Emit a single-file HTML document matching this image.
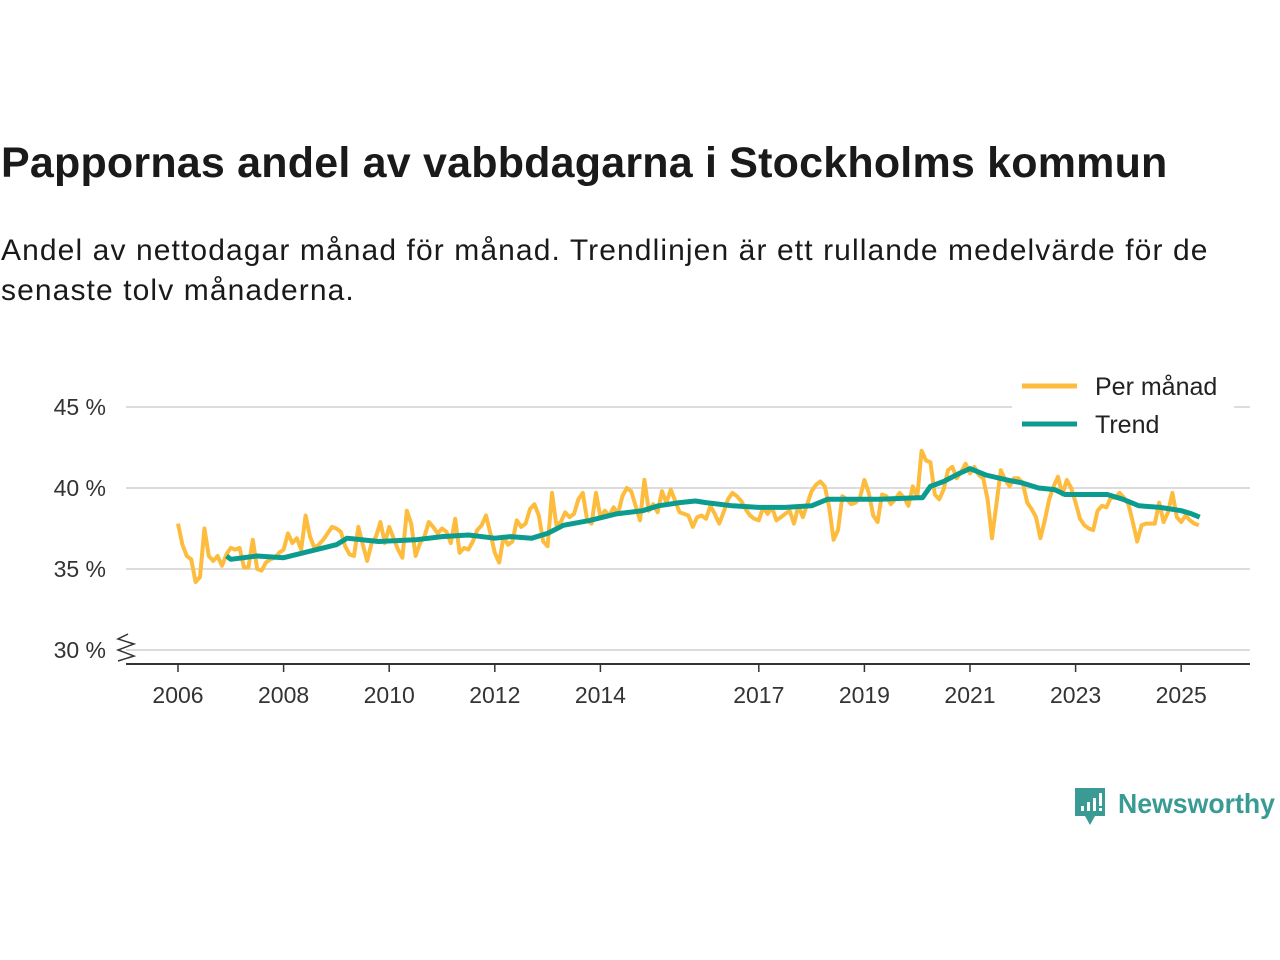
<!DOCTYPE html>
<html><head><meta charset="utf-8">
<style>
html,body{margin:0;padding:0;background:#fff;width:1280px;height:960px;overflow:hidden;font-family:"Liberation Sans",sans-serif;}
#title{position:absolute;left:1px;top:139px;font-size:43px;font-weight:bold;color:#1a1a1a;margin:0;letter-spacing:0.2px}
#sub{position:absolute;left:1px;top:231px;font-size:30px;color:#1a1a1a;line-height:40px;width:1262px;letter-spacing:1.1px}
svg{position:absolute;left:0;top:0}
</style></head><body>
<h1 id="title">Pappornas andel av vabbdagarna i Stockholms kommun</h1>
<div id="sub">Andel av nettodagar månad för månad. Trendlinjen är ett rullande medelvärde för de senaste tolv månaderna.</div>
<svg id="chart" width="1280" height="960"></svg>
<script>
const monthly = [
37.8,36.5,35.8,35.6,34.2,34.5,37.5,35.8,35.5,35.8,35.2,35.9,
36.3,36.2,36.3,35.1,35.1,36.8,35.0,34.9,35.4,35.6,35.7,36.0,
36.2,37.2,36.6,36.9,36.2,38.3,37.0,36.3,36.5,36.8,37.2,37.6,
37.5,37.3,36.4,35.9,35.8,37.6,36.5,35.5,36.6,37.0,37.9,36.6,
37.6,36.9,36.2,35.7,38.6,37.8,35.8,36.6,37.0,37.9,37.6,37.2,
37.5,37.3,36.6,38.1,36.0,36.3,36.2,36.7,37.4,37.7,38.3,37.2,
36.0,35.4,37.0,36.5,36.7,38.0,37.6,37.8,38.7,39.0,38.3,36.7,
36.4,39.7,37.7,37.9,38.5,38.2,38.4,39.3,39.7,38.0,37.8,39.7,
38.2,38.6,38.3,38.8,38.4,39.5,40.0,39.8,38.9,38.0,40.5,38.6,
39.0,38.5,39.8,39.1,39.9,39.2,38.5,38.4,38.3,37.6,38.2,38.3,
38.1,38.9,38.4,37.8,38.5,39.3,39.7,39.5,39.2,38.7,38.3,38.1,
38.0,38.8,38.4,38.8,38.0,38.2,38.4,38.6,37.8,38.9,38.2,39.0,
39.8,40.2,40.4,40.1,38.8,36.8,37.4,39.5,39.3,39.0,39.1,39.4,
40.5,39.7,38.3,37.9,39.6,39.5,39.0,39.3,39.7,39.4,38.9,40.1,
39.4,42.3,41.7,41.6,39.6,39.3,39.9,41.1,41.3,40.6,41.0,41.5,
40.9,41.3,40.8,40.6,39.3,36.9,39.0,41.1,40.5,40.1,40.6,40.6,
40.3,39.1,38.7,38.2,36.9,38.0,39.3,40.1,40.7,39.6,40.5,40.0,
39.1,38.1,37.7,37.5,37.4,38.6,38.9,38.8,39.4,39.4,39.7,39.4,
39.0,37.9,36.7,37.7,37.8,37.8,37.8,39.1,37.9,38.5,39.7,38.2,
37.9,38.3,38.0,37.8,37.7];
const startYear = 2006;
const trendDates = [2006.92,2007.0,2007.5,2008.0,2008.5,2009.0,2009.2,2009.8,2010.5,2011.0,2011.5,2012.0,2012.3,2012.7,2013.0,2013.3,2013.8,2014.3,2014.8,2015.1,2015.5,2015.8,2016.0,2016.5,2017.0,2017.5,2018.0,2018.3,2018.7,2019.3,2020.0,2020.1,2020.25,2020.5,2020.8,2021.0,2021.3,2021.7,2022.0,2022.3,2022.6,2022.8,2023.3,2023.6,2023.9,2024.2,2024.6,2025.0,2025.2,2025.35];
const trendValues = [35.8,35.6,35.8,35.7,36.1,36.5,36.9,36.7,36.8,37.0,37.1,36.9,37.0,36.9,37.2,37.7,38.0,38.4,38.6,38.9,39.1,39.2,39.1,38.9,38.8,38.8,38.9,39.3,39.3,39.3,39.4,39.4,40.1,40.4,40.9,41.2,40.8,40.5,40.3,40.0,39.9,39.6,39.6,39.6,39.3,38.9,38.8,38.6,38.4,38.2];
const xTicks = [2006,2008,2010,2012,2014,2017,2019,2021,2023,2025];
const yTicks = [30,35,40,45];

const svg = document.getElementById('chart');
const NS='http://www.w3.org/2000/svg';
const xs = y => 178 + (y-2006)*52.8;
const ys = v => 650 - (v-30)*16.2;
function mk(t,a){const e=document.createElementNS(NS,t);for(const k in a)e.setAttribute(k,a[k]);svg.appendChild(e);return e;}

yTicks.forEach(v=>{
  const g=mk('line',{x1:126,x2:1250,y1:ys(v),y2:ys(v),stroke:'#dcdcdc','stroke-width':2});
  
  
  const t=mk('text',{x:106,y:ys(v)+8,'text-anchor':'end','font-size':23,fill:'#333','font-family':'Liberation Sans, sans-serif'});
  t.textContent=v+' %';
  
  
});
const brk=mk('path',{d:'M128,634 L118,639 L134,644 L118,650 L134,656 L118,661',fill:'none',stroke:'#333','stroke-width':1.5});


const ax=mk('line',{x1:126,x2:1250,y1:664,y2:664,stroke:'#333','stroke-width':2});


xTicks.forEach(y=>{
  const l=mk('line',{x1:xs(y),x2:xs(y),y1:664,y2:672,stroke:'#333','stroke-width':1.5});
  
  
  const t=mk('text',{x:xs(y),y:703,'text-anchor':'middle','font-size':23,fill:'#333','font-family':'Liberation Sans, sans-serif'});
  t.textContent=y;
  
  
});
const mp=monthly.map((v,i)=>xs(startYear+i/12).toFixed(1)+','+ys(v).toFixed(1)).join(' ');
const l1=mk('polyline',{points:mp,fill:'none',stroke:'#fdbc3e','stroke-width':4,'stroke-linejoin':'round'});


const tp=trendValues.map((v,i)=>xs(trendDates[i]).toFixed(1)+','+ys(v).toFixed(1)).join(' ');
const l2=mk('polyline',{points:tp,fill:'none',stroke:'#0c9c8f','stroke-width':5,'stroke-linejoin':'round'});



const lb=mk('rect',{x:1012,y:368,width:222,height:72,fill:'#fff'});


[['Per månad','#fdbc3e',386],['Trend','#0c9c8f',424]].forEach(([n,c,y])=>{
  const l=mk('line',{x1:1022,x2:1077,y1:y,y2:y,stroke:c,'stroke-width':5});
  
  
  const t=mk('text',{x:1095,y:y+9,'font-size':25,fill:'#222','font-family':'Liberation Sans, sans-serif'});
  t.textContent=n;
  
  
});
const logo=mk('path',{d:'M1075,788 h30 v28 h-10 l-5,9 l-5,-9 h-10 z',fill:'#3a9b94'});


[[1081,806,5],[1087,802,9],[1093,798,13]].forEach(([x,y,h])=>{mk('rect',{x:x,y:y,width:3,height:h,fill:'#fff'});});
mk('rect',{x:1099,y:793,width:3,height:13,fill:'#fff'});
mk('rect',{x:1099,y:808,width:3,height:3,fill:'#fff'});
const lt=mk('text',{x:1118,y:813,'font-size':28,fill:'#3a9b94','font-family':'Liberation Sans, sans-serif','font-weight':'bold',textLength:157,lengthAdjust:'spacingAndGlyphs'});
lt.textContent='Newsworthy';


</script>
</body></html>
